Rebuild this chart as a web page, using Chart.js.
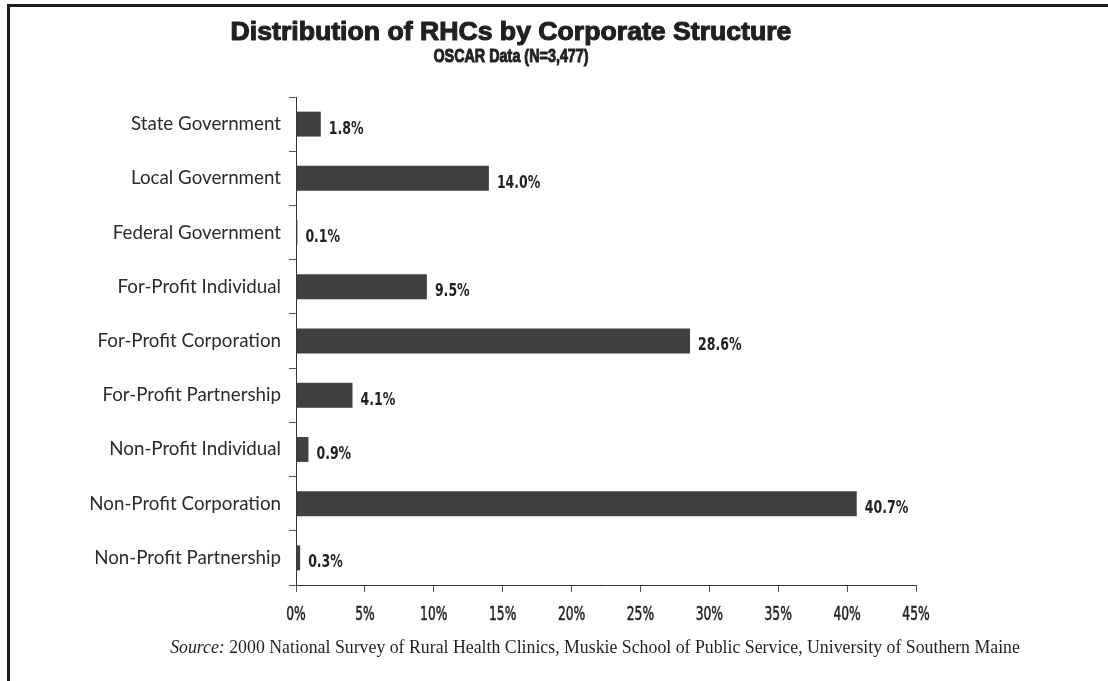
<!DOCTYPE html>
<html>
<head>
<meta charset="utf-8">
<script src="https://cdn.jsdelivr.net/npm/chart.js@4/dist/chart.umd.min.js"></script>
<style>
  html, body { margin: 0; padding: 0; background: #fff; }
  #wrap { position: relative; width: 1108px; height: 681px; }
</style>
</head>
<body>
<div id="wrap"><canvas id="chart" width="1108" height="681"></canvas></div>
<script>
// Corporate structure categories and their share of clinics (%)
const categories = [
  'State Government',
  'Local Government',
  'Federal Government',
  'For-Profit Individual',
  'For-Profit Corporation',
  'For-Profit Partnership',
  'Non-Profit Individual',
  'Non-Profit Corporation',
  'Non-Profit Partnership'
];
const shares = [1.8, 14.0, 0.1, 9.5, 28.6, 4.1, 0.9, 40.7, 0.3];
const tickValues = [0, 5, 10, 15, 20, 25, 30, 35, 40, 45];

const titleText = 'Distribution of RHCs by Corporate Structure';
const subtitleText = 'OSCAR Data (N=3,477)';
const sourceLead = 'Source:';
const sourceText = ' 2000 National Survey of Rural Health Clinics, Muskie School of Public Service, University of Southern Maine';

const INK = '#231f20';
const BAR = '#404040';
const CONDENSED = "'DejaVu Sans Condensed', 'DejaVu Sans', sans-serif";

// Text squeezed horizontally to mimic a condensed typeface
function squeezedText(ctx, text, x, y, sx, align, stroke) {
  ctx.save();
  ctx.translate(x, y);
  ctx.scale(sx, 1);
  ctx.textAlign = align;
  if (stroke) {
    ctx.lineWidth = stroke;
    ctx.strokeStyle = ctx.fillStyle;
    ctx.strokeText(text, 0, 0);
  }
  ctx.fillText(text, 0, 0);
  ctx.restore();
}

// Text fitted to span a given width, centred on cx
function fittedText(ctx, text, cx, y, width, stroke) {
  const w = ctx.measureText(text).width + (stroke || 0);
  ctx.save();
  ctx.translate(cx, y);
  ctx.scale(width / w, 1);
  ctx.textAlign = 'center';
  if (stroke) {
    ctx.lineWidth = stroke;
    ctx.strokeStyle = ctx.fillStyle;
    ctx.lineJoin = 'round';
    ctx.strokeText(text, 0, 0);
  }
  ctx.fillText(text, 0, 0);
  ctx.restore();
}

// Frame, headings, x tick labels and source note
const decorations = {
  id: 'decorations',
  beforeDraw(chart) {
    const ctx = chart.ctx;
    ctx.save();
    ctx.fillStyle = '#fff';
    ctx.fillRect(0, 0, chart.width, chart.height);
    ctx.fillStyle = '#1e1e1e';
    ctx.fillRect(7, 4, chart.width - 7, 3);
    ctx.fillRect(7, 4, 3, chart.height - 4);
    ctx.restore();
  },
  afterDraw(chart) {
    const ctx = chart.ctx;
    ctx.save();
    ctx.fillStyle = INK;
    ctx.textBaseline = 'middle';
    ctx.font = "bold 26px 'Liberation Sans', Arial, sans-serif";
    fittedText(ctx, titleText, 511, 33, 562, 1.1);
    ctx.font = "bold 19px 'Liberation Sans', Arial, sans-serif";
    fittedText(ctx, subtitleText, 511, 57, 156, 1.0);

    // x tick labels in a tall condensed face
    const xs = chart.scales.x;
    ctx.font = "19px " + CONDENSED;
    ctx.textBaseline = 'middle';
    tickValues.forEach(v => {
      squeezedText(ctx, v + '%', xs.getPixelForValue(v), 615, 0.72, 'center', 0.5);
    });

    // source line: italic lead-in followed by roman text
    ctx.textBaseline = 'alphabetic';
    ctx.textAlign = 'left';
    const italic = "italic 17.8px 'Liberation Serif', 'DejaVu Serif', serif";
    const roman = "17.8px 'Liberation Serif', 'DejaVu Serif', serif";
    ctx.font = italic;
    const w1 = ctx.measureText(sourceLead).width;
    ctx.font = roman;
    const w2 = ctx.measureText(sourceText).width;
    const x0 = 595 - (w1 + w2) / 2;
    ctx.font = italic;
    ctx.fillText(sourceLead, x0, 653);
    ctx.font = roman;
    ctx.fillText(sourceText, x0 + w1, 653);
    ctx.restore();
  }
};

// Percentage labels at the end of each bar
const valueLabels = {
  id: 'valueLabels',
  afterDatasetsDraw(chart) {
    const ctx = chart.ctx;
    const meta = chart.getDatasetMeta(0);
    ctx.save();
    ctx.fillStyle = INK;
    ctx.font = "bold 17px " + CONDENSED;
    ctx.textBaseline = 'middle';
    meta.data.forEach((bar, i) => {
      const v = chart.data.datasets[0].data[i];
      squeezedText(ctx, v.toFixed(1) + '%', bar.x + 8, bar.y + 5, 0.82, 'left');
    });
    ctx.restore();
  }
};

new Chart(document.getElementById('chart'), {
  type: 'bar',
  data: {
    labels: categories,
    datasets: [{
      data: shares,
      backgroundColor: BAR,
      borderWidth: 0,
      barPercentage: 0.92,
      categoryPercentage: 0.5
    }]
  },
  plugins: [decorations, valueLabels],
  options: {
    indexAxis: 'y',
    responsive: false,
    animation: false,
    layout: { padding: { left: 0, right: 192, top: 97, bottom: 0 } },
    plugins: {
      legend: { display: false },
      title: { display: false },
      tooltip: { enabled: false }
    },
    scales: {
      x: {
        min: 0,
        max: 45,
        afterFit(scale) { scale.height = 96; },
        afterBuildTicks(scale) { scale.ticks = tickValues.map(v => ({ value: v })); },
        grid: {
          drawOnChartArea: false,
          drawTicks: true,
          tickLength: 7,
          color: '#555',
          lineWidth: 1
        },
        border: { display: true, color: '#333', width: 1 },
        ticks: { display: false }
      },
      y: {
        afterFit(scale) { scale.width = 296; },
        grid: {
          offset: true,
          drawOnChartArea: false,
          drawTicks: true,
          tickLength: 7,
          color: '#555',
          lineWidth: 1
        },
        border: { display: true, color: '#333', width: 1 },
        ticks: {
          padding: 8,
          color: '#2b2b2b',
          font: { family: "Lato, 'Noto Sans', sans-serif", size: 18.75 }
        }
      }
    }
  }
});
</script>
</body>
</html>
